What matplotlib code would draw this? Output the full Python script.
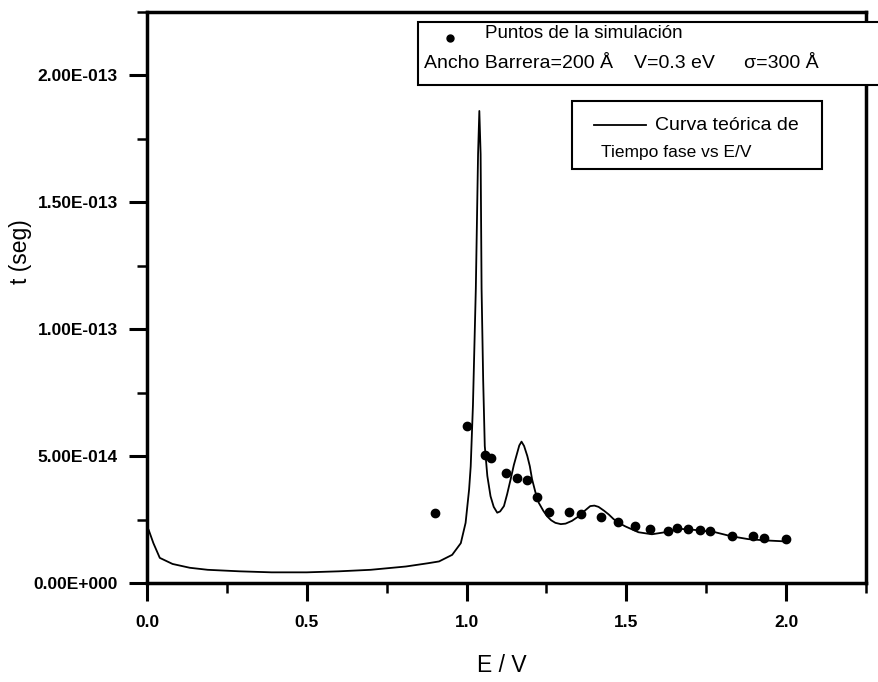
import matplotlib
matplotlib.use("Agg")
import matplotlib.pyplot as plt
from matplotlib.patches import Rectangle
from matplotlib.ticker import MultipleLocator, FixedLocator, FixedFormatter

plt.rcParams['font.family'] = ['Liberation Sans', 'DejaVu Sans']

# theoretical phase time curve (x = E/V, y in units of 1e-14 s)
curve_x = [0.0, 0.005, 0.02, 0.04, 0.08, 0.134, 0.19, 0.29, 0.39, 0.5, 0.6, 0.7,
           0.81, 0.88, 0.914, 0.955, 0.982, 0.997, 1.008, 1.013, 1.02, 1.029,
           1.036, 1.04, 1.044, 1.047, 1.052, 1.057, 1.065, 1.075, 1.085, 1.096,
           1.105, 1.117, 1.127, 1.138, 1.148, 1.159, 1.165, 1.172, 1.18, 1.19,
           1.198, 1.205, 1.215, 1.226, 1.24, 1.252, 1.265, 1.278, 1.295, 1.31,
           1.33, 1.351, 1.37, 1.387, 1.4, 1.413, 1.43, 1.445, 1.46, 1.476,
           1.497, 1.538, 1.58, 1.621, 1.673, 1.725, 1.778, 1.829, 1.881, 1.933,
           1.996]
curve_y = [2.2, 2.1, 1.57, 0.99, 0.75, 0.6, 0.52, 0.46, 0.42, 0.42, 0.46, 0.52,
           0.65, 0.78, 0.85, 1.11, 1.57, 2.37, 3.69, 4.6, 7.0, 11.6,
           16.9, 18.6, 16.9, 11.6, 8.0, 5.4, 4.22, 3.42, 3.0, 2.77,
           2.82, 3.03, 3.5, 4.09, 4.65, 5.15, 5.42, 5.57, 5.4, 5.01,
           4.6, 4.09, 3.6, 3.16, 2.85, 2.63, 2.47, 2.37, 2.32, 2.34,
           2.45, 2.63, 2.85, 3.03, 3.05, 3.0, 2.85, 2.7, 2.52, 2.37,
           2.23, 2.0, 1.92, 2.0, 2.13, 2.08, 2.0, 1.84, 1.73, 1.68,
           1.64]

# simulation points
sim_x = [0.9, 1.0, 1.057, 1.075, 1.122, 1.157, 1.19, 1.221, 1.257, 1.322, 1.358,
         1.422, 1.474, 1.526, 1.575, 1.629, 1.66, 1.694, 1.729, 1.762, 1.831,
         1.897, 1.93, 2.0]
sim_y = [2.77, 6.18, 5.04, 4.92, 4.34, 4.13, 4.06, 3.39, 2.79, 2.79, 2.71,
         2.59, 2.39, 2.26, 2.13, 2.06, 2.17, 2.13, 2.08, 2.04, 1.84,
         1.84, 1.77, 1.73]

y_ticks = [0.0, 5e-14, 1e-13, 1.5e-13, 2e-13]
y_labels = ["0.00E+000", "5.00E-014", "1.00E-013", "1.50E-013", "2.00E-013"]
x_ticks = [0.0, 0.5, 1.0, 1.5, 2.0]
x_labels = ["0.0", "0.5", "1.0", "1.5", "2.0"]

W, H = 879, 682
fig = plt.figure(figsize=(W / 100, H / 100), dpi=100)
ax = fig.add_axes([147 / W, 1 - 583 / H, (866 - 147) / W, (583 - 12) / H])


def fx(px):
    return px / W


def fy(py):
    return 1 - py / H


ax.plot(curve_x, [v * 1e-14 for v in curve_y], color='black', lw=1.3)
ax.plot(sim_x, [v * 1e-14 for v in sim_y], 'o', color='black', ms=6)

ax.set_xlim(0, 2.25)
ax.set_ylim(0, 2.25e-13)
ax.xaxis.set_major_locator(FixedLocator(x_ticks))
ax.xaxis.set_major_formatter(FixedFormatter(x_labels))
ax.xaxis.set_minor_locator(MultipleLocator(0.25))
ax.yaxis.set_major_locator(FixedLocator(y_ticks))
ax.yaxis.set_major_formatter(FixedFormatter(y_labels))
ax.yaxis.set_minor_locator(MultipleLocator(2.5e-14))

ax.tick_params(which='major', length=13, width=2.2, labelsize=12.5, pad=8)
ax.tick_params(axis='x', which='major', pad=10)
ax.tick_params(which='minor', length=7, width=1.8)
for lab in ax.get_xticklabels() + ax.get_yticklabels():
    lab.set_fontweight('bold')
for s in ax.spines.values():
    s.set_linewidth(2.5)

fig.text(fx(502), fy(666), "E / V", fontsize=16.5, ha='center', va='center')
fig.text(fx(21), fy(252), "t (seg)", fontsize=16.5, ha='center', va='center',
         rotation=90)

# first legend box
box1 = Rectangle((fx(418), fy(85)), fx(890) - fx(418), fy(22) - fy(85),
                 transform=fig.transFigure, facecolor='white', edgecolor='black',
                 lw=1.5, zorder=5, clip_on=False)
fig.add_artist(box1)
fig.add_artist(plt.Line2D([fx(450)], [fy(38)], marker='o', color='black', ms=5,
                          transform=fig.transFigure, zorder=6))
fig.text(fx(485), fy(33), "Puntos de la simulación", fontsize=13.5,
         ha='left', va='center', zorder=6)
fig.text(fx(424), fy(63), "Ancho Barrera=200 Å", fontsize=14,
         ha='left', va='center', zorder=6)
fig.text(fx(634), fy(63), "V=0.3 eV", fontsize=14,
         ha='left', va='center', zorder=6)
fig.text(fx(744), fy(63), "σ=300 Å", fontsize=14,
         ha='left', va='center', zorder=6)

# second legend box
box2 = Rectangle((fx(572), fy(169)), fx(822) - fx(572), fy(101) - fy(169),
                 transform=fig.transFigure, facecolor='white', edgecolor='black',
                 lw=1.5, zorder=5)
fig.add_artist(box2)
fig.add_artist(plt.Line2D([fx(594), fx(646)], [fy(125), fy(125)], color='black',
                          lw=1.3, transform=fig.transFigure, zorder=6))
fig.text(fx(655), fy(125), "Curva teórica de", fontsize=14,
         ha='left', va='center', zorder=6)
fig.text(fx(601), fy(153), "Tiempo fase vs E/V", fontsize=12.5,
         ha='left', va='center', zorder=6)

fig.savefig("out.png", dpi=100)
